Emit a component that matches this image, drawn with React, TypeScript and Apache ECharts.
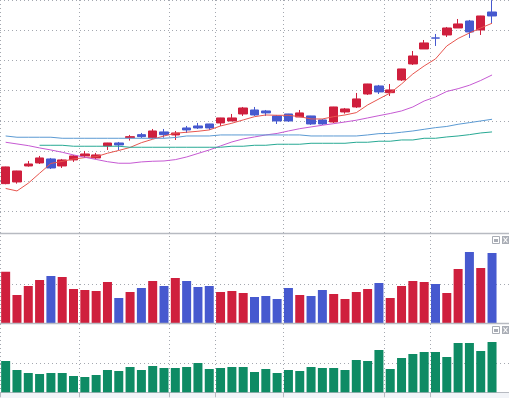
import React, { useEffect, useRef } from "react";
import * as echarts from "echarts";

const categories = [
  "01", "02", "03", "04", "05", "06", "07", "08", "09", "10", "11",
  "12", "13", "14", "15", "16", "17", "18", "19", "20", "21", "22",
  "23", "24", "25", "26", "27", "28", "29", "30", "31", "32", "33",
  "34", "35", "36", "37", "38", "39", "40", "41", "42", "43", "44",
];

const openPrices = [
  44.59, 44.87, 47.52, 48.02, 48.68, 47.52, 48.52, 49.18, 48.85, 50.84, 51.33,
  52.21, 52.71, 52.21, 53.16, 52.66, 53.82, 54.15, 54.48, 54.65, 54.98, 56.14,
  56.8, 56.64, 55.81, 56.14, 55.64, 55.81, 55.15, 54.81, 56.47, 57.3, 59.45,
  60.78, 59.67, 61.78, 64.43, 66.91, 68.74, 69.23, 70.39, 71.55, 70.06, 73.04,
];
const closePrices = [
  47.36, 46.69, 47.85, 48.85, 47.19, 48.52, 49.18, 49.51, 49.35, 51.33, 51.0,
  52.38, 52.38, 53.32, 52.71, 52.99, 53.49, 53.82, 53.82, 55.48, 55.48, 57.13,
  55.97, 56.31, 54.98, 54.98, 56.31, 54.48, 54.48, 57.3, 56.97, 58.63, 61.11,
  59.79, 60.12, 63.6, 65.75, 67.91, 68.71, 70.39, 71.06, 69.73, 72.38, 72.38,
];
const lowPrices = [
  44.49, 44.59, 47.41, 47.85, 47.02, 47.19, 48.19, 48.85, 48.68, 50.17, 50.17,
  51.72, 52.16, 52.05, 52.21, 51.83, 52.99, 53.65, 53.49, 54.15, 54.98, 55.81,
  55.81, 55.81, 54.48, 54.81, 55.64, 54.32, 54.32, 54.65, 56.19, 57.13, 59.29,
  59.45, 59.12, 61.61, 64.26, 66.91, 67.41, 68.9, 70.39, 68.74, 69.23, 71.22,
];
const highPrices = [
  47.4, 46.72, 48.35, 49.18, 48.85, 48.68, 49.35, 50.01, 49.68, 51.35, 51.5,
  52.66, 52.99, 53.65, 53.65, 53.32, 54.15, 54.65, 54.5, 55.5, 56.14, 57.3,
  57.3, 56.8, 55.97, 56.16, 56.8, 55.83, 55.31, 57.32, 57.13, 59.62, 61.13,
  60.95, 61.11, 63.62, 66.58, 68.4, 69.4, 70.56, 71.88, 71.72, 72.4, 75.0,
];

const ma5 = [
  43.79, 43.38, 44.66, 46.31, 47.94, 48.27, 48.68, 48.9, 49.06, 49.63, 50.09,
  50.59, 51.38, 51.95, 52.49, 52.94, 53.11, 53.27, 53.49, 54.15, 54.6, 55.15,
  55.69, 55.97, 55.92, 55.92, 55.69, 55.31, 55.31, 55.69, 55.97, 56.36, 57.63,
  58.63, 59.62, 61.11, 62.77, 64.1, 65.26, 67.41, 68.65, 69.56, 70.39, 71.17,
];
const ma10 = [
  51.45, 51.17, 50.89, 50.51, 50.17, 49.79, 49.35, 48.96, 48.6, 48.23, 47.97,
  47.97, 48.19, 48.3, 48.35, 48.57, 49.01, 49.59, 50.17, 50.84, 51.5, 52.0,
  52.33, 52.66, 52.91, 53.32, 53.7, 53.99, 54.27, 54.53, 54.81, 55.1, 55.48,
  55.86, 56.22, 56.64, 57.3, 58.29, 58.96, 59.87, 60.33, 60.9, 61.69, 62.6,
];
const ma30 = [
  52.49, 52.28, 52.28, 52.28, 52.28, 52.11, 52.11, 52.11, 52.11, 52.11, 52.11,
  52.11, 52.11, 52.11, 52.11, 52.24, 52.49, 52.49, 52.49, 52.66, 52.66, 52.66,
  52.66, 52.66, 52.66, 52.66, 52.66, 52.49, 52.49, 52.49, 52.49, 52.49, 52.66,
  52.88, 52.91, 53.11, 53.32, 53.6, 53.87, 54.07, 54.43, 54.7, 54.98, 55.26,
];
const ma60 = [
  null, null, null, 50.95, 50.95, 50.95, 50.79, 50.79, 50.79, 50.79, 50.79,
  50.62, 50.62, 50.62, 50.62, 50.62, 50.62, 50.62, 50.62, 50.62, 50.79, 50.79,
  50.95, 50.95, 51.12, 51.12, 51.12, 51.28, 51.28, 51.28, 51.28, 51.45, 51.45,
  51.62, 51.62, 51.83, 51.83, 52.11, 52.11, 52.33, 52.49, 52.71, 52.99, 53.16,
];

const volumes = [
  13230, 7260, 9560, 11100, 12130, 11870, 8790, 8540, 8280, 10590, 6490,
  8030, 9050, 10850, 9560, 11620, 10850, 9310, 9560, 8030, 8280, 7770,
  6740, 7000, 6230, 9050, 7260, 7000, 8540, 7510, 6230, 8030, 8790,
  10330, 6490, 9560, 10850, 10590, 10080, 7770, 13920, 18280, 14180, 18030,
];
const indicatorValues = [
  107.9, 76.9, 66.6, 63.1, 66.6, 66.6, 56.2, 52.8, 59.7, 76.9, 73.4,
  87.2, 76.9, 90.7, 83.8, 83.8, 87.2, 101.0, 80.3, 83.8, 87.2, 87.2,
  70.0, 80.3, 66.6, 76.9, 73.4, 87.2, 83.8, 83.8, 76.9, 111.4, 107.9,
  145.9, 80.3, 118.3, 132.1, 139.0, 139.0, 121.7, 170.0, 170.0, 142.4, 173.4,
];

const priceAxis = { min: 35, max: 75, interval: 5 };
const volumeAxis = { min: 0, max: 20000, interval: 10000 };
const indicatorAxis = { min: 0, max: 200, interval: 100 };
const sessionBreaks = [0, 7, 15, 19, 25, 34, 38];

const UP = "#CF1F3D";
const DOWN = "#4659CF";
const GREEN = "#0E8B64";
const GRID_LINE = "#A4A8B0";
const SEP = "#B7BAC1";

export default function App() {
  const ref = useRef<HTMLDivElement>(null);

  useEffect(() => {
    if (!ref.current) return;
    const chart = echarts.init(ref.current, undefined, { renderer: "svg" });
    const cats = [...categories, ""];
    const candles = categories.map((_, i) => [
      openPrices[i],
      closePrices[i],
      lowPrices[i],
      highPrices[i],
    ]);
    const volData = volumes.map((v, i) => ({
      value: v,
      itemStyle: { color: closePrices[i] >= openPrices[i] ? UP : DOWN },
    }));
    const isBreak = (idx: number) => sessionBreaks.includes(idx);
    const dotted = { color: GRID_LINE, width: 1, type: [1, 3] as any };

    const baseX = (gridIndex: number) => ({
      type: "category" as const,
      gridIndex,
      data: cats,
      boundaryGap: true,
      axisLabel: { show: false },
      axisTick: { show: false },
      axisLine: { show: false },
      splitLine: { show: false },
    });

    const icon = (y: number) => [
      {
        type: "rect",
        shape: { x: 492.5, y: y + 0.5, width: 7, height: 7 },
        style: { fill: "#fff", stroke: "#A9ADB5", lineWidth: 1 },
        z: 100,
      },
      {
        type: "rect",
        shape: { x: 494, y: y + 3, width: 4, height: 3 },
        style: { fill: "#A9ADB5" },
        z: 101,
      },
      {
        type: "rect",
        shape: { x: 502, y: y, width: 7, height: 8 },
        style: { fill: "#A9ADB5" },
        z: 100,
      },
      {
        type: "line",
        shape: { x1: 503.5, y1: y + 1.5, x2: 507.5, y2: y + 6.5 },
        style: { stroke: "#fff", lineWidth: 1.2 },
        z: 101,
      },
      {
        type: "line",
        shape: { x1: 507.5, y1: y + 1.5, x2: 503.5, y2: y + 6.5 },
        style: { stroke: "#fff", lineWidth: 1.2 },
        z: 101,
      },
    ];

    chart.setOption({
      animation: false,
      backgroundColor: "#ffffff",
      grid: [
        { left: 0, right: -3.8, top: 0.17, height: 241.33 },
        { left: 0, right: -3.8, top: 245.3, height: 78 },
        { left: 0, right: -3.8, top: 334.3, height: 58 },
        { left: 0, right: -3.8, top: 0, height: 392.3 },
      ],
      xAxis: [
        baseX(0),
        baseX(1),
        {
          ...baseX(2),
          axisLine: { show: true, lineStyle: { color: SEP, width: 1 } },
          axisTick: {
            show: true,
            length: 5,
            interval: (idx: number) => isBreak(idx),
            lineStyle: { color: SEP, width: 1 },
          },
        },
        {
          ...baseX(3),
          splitLine: {
            show: true,
            interval: (idx: number) => isBreak(idx),
            lineStyle: dotted,
          },
        },
      ],
      yAxis: [
        {
          type: "value",
          gridIndex: 0,
          position: "right",
          min: priceAxis.min,
          max: priceAxis.max,
          interval: priceAxis.interval,
          axisLabel: { show: false },
          axisLine: { show: false },
          axisTick: { show: false },
          splitLine: { show: true, showMinLine: false, lineStyle: dotted },
        },
        {
          type: "value",
          gridIndex: 1,
          position: "right",
          min: volumeAxis.min,
          max: volumeAxis.max,
          interval: volumeAxis.interval,
          axisLabel: { show: false },
          axisLine: { show: false },
          axisTick: { show: false },
          splitLine: {
            show: true,
            showMinLine: false,
            showMaxLine: false,
            lineStyle: dotted,
          },
        },
        {
          type: "value",
          gridIndex: 2,
          position: "right",
          min: indicatorAxis.min,
          max: indicatorAxis.max,
          interval: indicatorAxis.interval,
          axisLabel: { show: false },
          axisLine: { show: false },
          axisTick: { show: false },
          splitLine: {
            show: true,
            showMinLine: false,
            showMaxLine: false,
            lineStyle: dotted,
          },
        },
        {
          type: "value",
          gridIndex: 3,
          min: 0,
          max: 1,
          show: false,
          splitLine: { show: false },
        },
      ],
      series: [
        {
          type: "candlestick",
          xAxisIndex: 0,
          yAxisIndex: 0,
          data: candles,
          barWidth: 9,
          itemStyle: {
            color: UP,
            color0: DOWN,
            borderColor: UP,
            borderColor0: DOWN,
            borderWidth: 1,
          },
          z: 2,
        },
        {
          type: "line",
          xAxisIndex: 0,
          yAxisIndex: 0,
          data: ma5,
          showSymbol: false,
          lineStyle: { color: "#E8564F", width: 1 },
          z: 3,
        },
        {
          type: "line",
          xAxisIndex: 0,
          yAxisIndex: 0,
          data: ma10,
          showSymbol: false,
          lineStyle: { color: "#C65AD3", width: 1 },
          z: 3,
        },
        {
          type: "line",
          xAxisIndex: 0,
          yAxisIndex: 0,
          data: ma30,
          showSymbol: false,
          lineStyle: { color: "#5B9AD3", width: 1 },
          z: 3,
        },
        {
          type: "line",
          xAxisIndex: 0,
          yAxisIndex: 0,
          data: ma60,
          showSymbol: false,
          lineStyle: { color: "#28A994", width: 1 },
          z: 3,
        },
        {
          type: "bar",
          xAxisIndex: 1,
          yAxisIndex: 1,
          data: volData,
          barWidth: 9,
        },
        {
          type: "bar",
          xAxisIndex: 2,
          yAxisIndex: 2,
          data: indicatorValues,
          barWidth: 9,
          itemStyle: { color: GREEN },
        },
      ],
      graphic: [
        {
          type: "rect",
          shape: { x: 0, y: 393, width: 509, height: 5 },
          style: { fill: "#F2F4F8" },
          z: -10,
        },
        {
          type: "line",
          shape: { x1: 0, y1: 233.5, x2: 509, y2: 233.5 },
          style: { stroke: SEP, lineWidth: 1.3 },
          z: 50,
        },
        {
          type: "line",
          shape: { x1: 0, y1: 323.5, x2: 509, y2: 323.5 },
          style: { stroke: SEP, lineWidth: 1.3 },
          z: 50,
        },
        ...icon(236),
        ...icon(326),
      ],
    });

    return () => chart.dispose();
  }, []);

  return (
    <div
      ref={ref}
      style={{
        position: "fixed",
        left: 0,
        top: 0,
        width: 509,
        height: 398,
        background: "#fff",
      }}
    />
  );
}
